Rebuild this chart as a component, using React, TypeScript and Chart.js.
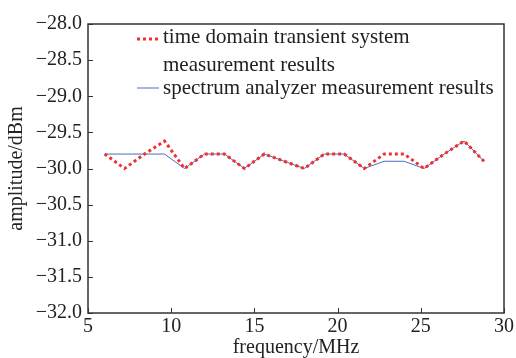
import React, { useEffect, useRef } from "react";
import { Chart, registerables } from "chart.js";

Chart.register(...registerables);

const frequencies = [6.0, 7.2, 8.4, 9.6, 10.8, 12.0, 13.2, 14.4, 15.6, 16.8, 18.0, 19.2, 20.4, 21.6, 22.8, 24.0, 25.2, 26.4, 27.6, 28.8];
const transientValues = [-29.8, -30.0, -29.8, -29.62, -30.0, -29.8, -29.8, -30.0, -29.8, -29.9, -30.0, -29.8, -29.8, -30.0, -29.8, -29.8, -30.0, -29.8, -29.62, -29.9];
const analyzerValues = [-29.8, -29.8, -29.8, -29.8, -30.0, -29.8, -29.8, -30.0, -29.8, -29.9, -30.0, -29.8, -29.8, -30.0, -29.9, -29.9, -30.0, -29.8, -29.62, -29.9];
const xTicks = [5, 10, 15, 20, 25, 30];
const yTicks = [-32, -31.5, -31, -30.5, -30, -29.5, -29, -28.5, -28];
const legendLabels = [["time domain transient system", "measurement results"], ["spectrum analyzer measurement results"]];

const RED = "rgb(240,48,48)";
const BLUE = "rgb(72,110,188)";
const FONT = "'Liberation Serif', 'Times New Roman', serif";

const fmt = (v: number) => (v < 0 ? "\u2212" : "") + Math.abs(v).toFixed(1);

const framePlugin = {
  id: "frame",
  afterDraw(chart: any) {
    const { ctx, chartArea: a, scales } = chart;
    ctx.save();
    ctx.strokeStyle = "#333";
    ctx.lineWidth = 1.5;
    ctx.strokeRect(a.left, a.top, a.right - a.left, a.bottom - a.top);
    ctx.lineWidth = 1;
    ctx.beginPath();
    for (const v of xTicks) {
      const px = Math.round(scales.x.getPixelForValue(v)) + 0.5;
      ctx.moveTo(px, a.bottom);
      ctx.lineTo(px, a.bottom - 5);
    }
    for (const v of yTicks) {
      const py = Math.round(scales.y.getPixelForValue(v)) + 0.5;
      ctx.moveTo(a.left, py);
      ctx.lineTo(a.left + 5, py);
    }
    ctx.stroke();

    // legend
    const sx = a.left + 49;
    const tx = sx + 26;
    ctx.font = "21px " + FONT;
    ctx.fillStyle = "#222";
    ctx.textBaseline = "middle";
    let y = a.top + 15;
    ctx.strokeStyle = RED;
    ctx.lineWidth = 3;
    ctx.setLineDash([3, 3]);
    ctx.beginPath();
    ctx.moveTo(sx, y);
    ctx.lineTo(sx + 21, y);
    ctx.stroke();
    ctx.setLineDash([]);
    ctx.fillText(legendLabels[0][0], tx, y - 2);
    ctx.fillText(legendLabels[0][1], tx, y + 26);
    y += 49;
    ctx.strokeStyle = BLUE;
    ctx.lineWidth = 1;
    ctx.beginPath();
    ctx.moveTo(sx, y);
    ctx.lineTo(sx + 22, y);
    ctx.stroke();
    ctx.fillText(legendLabels[1][0], tx, y);
    ctx.restore();
  },
};

export default function App() {
  const ref = useRef<HTMLCanvasElement>(null);
  useEffect(() => {
    const chart = new Chart(ref.current!, {
      type: "line",
      data: {
        datasets: [
          {
            label: "time domain transient system measurement results",
            data: frequencies.map((x, i) => ({ x, y: transientValues[i] })),
            borderColor: RED,
            borderWidth: 3,
            borderDash: [3, 3],
            pointRadius: 0,
            tension: 0,
          },
          {
            label: "spectrum analyzer measurement results",
            data: frequencies.map((x, i) => ({ x, y: analyzerValues[i] })),
            borderColor: BLUE,
            borderWidth: 1,
            pointRadius: 0,
            tension: 0,
          },
        ],
      },
      options: {
        animation: false,
        responsive: false,
        layout: { padding: { top: 24, right: 11, left: 0, bottom: 0 } },
        plugins: { legend: { display: false }, tooltip: { enabled: false } },
        scales: {
          x: {
            type: "linear",
            min: 5,
            max: 30,
            afterBuildTicks: (s: any) => { s.ticks = xTicks.map((v) => ({ value: v })); },
            afterFit: (s: any) => { s.height = 45; },
            grid: { display: false, drawTicks: false },
            border: { display: false },
            ticks: { color: "#222", font: { family: FONT, size: 20, lineHeight: 1.2 }, padding: 2, maxRotation: 0, callback: (v: any) => String(v) },
            title: { display: true, text: "frequency/MHz", color: "#222", font: { family: FONT, size: 20, lineHeight: 1 }, padding: { top: 0, bottom: 0 } },
          },
          y: {
            type: "linear",
            min: -32,
            max: -28,
            afterBuildTicks: (s: any) => { s.ticks = yTicks.map((v) => ({ value: v })); },
            afterFit: (s: any) => { s.width = 88; },
            grid: { display: false, drawTicks: false },
            border: { display: false },
            ticks: { color: "#222", font: { family: FONT, size: 20 }, padding: 6, callback: (v: any) => fmt(Number(v)) },
            title: { display: true, text: "amplitude/dBm", color: "#222", font: { family: FONT, size: 20, lineHeight: 1 }, padding: { top: 7, bottom: 0 } },
          },
        },
      },
      plugins: [framePlugin],
    } as any);
    return () => chart.destroy();
  }, []);
  return (
    <div style={{ position: "fixed", left: 0, top: 0, width: 516, height: 358, background: "#fff" }}>
      <canvas ref={ref} width={516} height={358} style={{ width: 516, height: 358, display: "block" }} />
    </div>
  );
}
